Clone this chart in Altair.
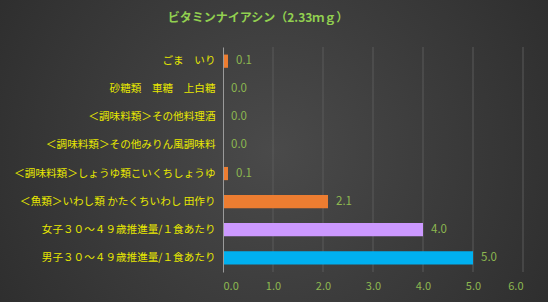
import altair as alt
import pandas as pd

title_text = "ビタミンナイアシン（2.33ｍｇ）"
categories = [
    "ごま　いり",
    "砂糖類　車糖　上白糖",
    "＜調味料類＞その他料理酒",
    "＜調味料類＞その他みりん風調味料",
    "＜調味料類＞しょうゆ類こいくちしょうゆ",
    "＜魚類＞いわし類 かたくちいわし 田作り",
    "女子３０～４９歳推進量/１食あたり",
    "男子３０～４９歳推進量/１食あたり",
]
values = [0.1, 0.0, 0.0, 0.0, 0.1, 2.1, 4.0, 5.0]
colors = ["#ED7D31", "#ED7D31", "#ED7D31", "#ED7D31", "#ED7D31", "#ED7D31", "#CC99FF", "#00B0F0"]
x_ticks = [0, 1, 2, 3, 4, 5, 6]

df = pd.DataFrame({"cat": categories, "val": values, "col": colors})
df["label"] = df["val"].map(lambda v: f"{v:.1f}")
grid_df = pd.DataFrame({"t": x_ticks[1:]})

FONT = "Noto Sans CJK JP"
W, H = 300, 225
PL, PT, PR, PB = 223, 47, 25, 30

xscale = alt.Scale(domain=[0, 6], nice=False)
xaxis = alt.Axis(title=None, values=x_ticks, format=".1f", labelColor="#8DB850",
                 labelFont=FONT, labelFontSize=11, ticks=False, domain=False,
                 grid=False, labelPadding=8, zindex=1)

bg = alt.Chart(pd.DataFrame({"a": [0]})).mark_rect(
    color={
        "gradient": "radial",
        "x1": 0.5, "y1": 0.5, "r1": 0,
        "x2": 0.5, "y2": 0.5, "r2": 0.75,
        "stops": [
            {"offset": 0, "color": "#4a4a4a"},
            {"offset": 1, "color": "#262626"},
        ],
    }
).encode(
    x=alt.value(-PL), x2=alt.value(W + PR),
    y=alt.value(-PT), y2=alt.value(H + PB),
)

title = alt.Chart(pd.DataFrame({"t": [title_text]})).mark_text(
    font=FONT, fontSize=12, fontWeight="bold", color="#92D050", align="center", baseline="middle"
).encode(x=alt.value(258 - PL), y=alt.value(18 - PT), text="t:N")

grid = alt.Chart(grid_df).mark_rule(color="#5a5a5a", strokeWidth=1).encode(
    x=alt.X("t:Q", scale=xscale, axis=xaxis),
    y=alt.value(0), y2=alt.value(H),
)

ysort = categories

bars = alt.Chart(df).mark_bar().encode(
    y=alt.Y("cat:N", sort=ysort, scale=alt.Scale(paddingInner=0.53, paddingOuter=0.27),
            axis=alt.Axis(title=None, labelColor="#E8E800", labelFont=FONT, labelFontSize=10.6,
                          labelPadding=8, ticks=False, domainColor="#9a9a9a", domainWidth=1,
                          labelLimit=300, grid=False, zindex=1)),
    x=alt.X("val:Q", scale=xscale, axis=xaxis),
    color=alt.Color("col:N", scale=None),
)

texts = alt.Chart(df).mark_text(align="left", dx=8, font=FONT, fontSize=11.5, color="#8DB850").encode(
    y=alt.Y("cat:N", sort=ysort),
    x="val:Q",
    text="label:N",
)

chart = alt.layer(bg, title, grid, bars, texts).properties(
    width=W, height=H,
    padding={"left": PL, "top": PT, "right": PR, "bottom": PB},
    autosize=alt.AutoSizeParams(type="none"),
).configure(background="#333333").configure_view(stroke=None)

chart.save("out.html", embed_options={"renderer": "svg", "actions": False})
